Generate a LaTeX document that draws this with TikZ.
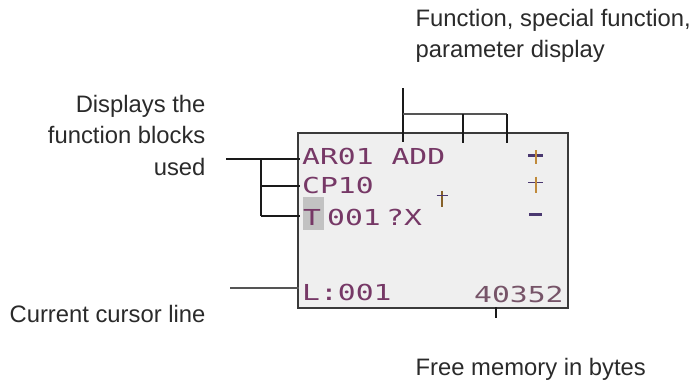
\documentclass[tikz,border=0pt]{standalone}
\usepackage{fontspec}
\setmainfont{Liberation Sans}
\newfontfamily\lcdfont[FakeStretch=1.35]{DejaVu Sans Mono}
\definecolor{labtext}{HTML}{2A2A2A}
\definecolor{lcdink}{HTML}{763866}
\definecolor{lcdink2}{HTML}{765468}
\definecolor{lcdbg}{HTML}{EFEFEF}
\definecolor{lcdframe}{HTML}{3A3A3A}
\definecolor{hilite}{HTML}{C2C2C2}
\definecolor{symbar}{HTML}{4A3870}
\definecolor{symvert}{HTML}{C08A3A}
\definecolor{lead}{HTML}{1A1A1A}
\definecolor{leadgray}{HTML}{555555}
\tikzset{
  lab/.style={inner sep=0pt, text=labtext, font=\fontsize{23.8}{26}\selectfont},
  lcdtxt/.style={inner sep=0pt, anchor=base west, text=lcdink, font=\lcdfont\fontsize{22}{24}\selectfont},
  leader/.style={draw=lead, line width=1.4pt},
  leaderg/.style={draw=leadgray, line width=1.2pt},
}
\begin{document}
\begin{tikzpicture}[x=1pt,y=-1pt]
\useasboundingbox (0,0) rectangle (691,383);

% labels
\node[lab, anchor=base west] (f1) at (415.5,26) {Function, special function,};
\node[lab, anchor=base west] (f2) at (415.5,57) {parameter display};
\node[lab, anchor=base east] (d1) at (205.6,112) {Displays the};
\node[lab, anchor=base east] (d2) at (205.6,143.5) {function blocks};
\node[lab, anchor=base east] (d3) at (205.6,175) {used};
\node[lab, anchor=base east] (cc) at (205.6,322) {Current cursor line};
\node[lab, anchor=base west] (fm) at (415.5,375) {Free memory in bytes};

% LCD display
\node[draw=lcdframe, fill=lcdbg, line width=1.4pt, minimum width=270pt, minimum height=175pt, inner sep=0pt] (lcd) at (433,220.5) {};
\fill[hilite] (303,197) rectangle (324,230);
\node[lcdtxt] (r1) at (302,164) {AR01 ADD};
\node[lcdtxt] (r2) at (302,193) {CP10};
\node[lcdtxt] (r3a) at (303,225) {T};
\node[lcdtxt] (r3b) at (327,225) {001};
\node[lcdtxt] (r3c) at (386,225) {?X};
\node[lcdtxt] (r4) at (302,300) {L:001};
\node[lcdtxt, text=lcdink2] (r5) at (474,302) {40352};

% status symbols
\draw[symbar, line width=3pt] (528,155.7) -- (543,155.7);
\draw[symvert, line width=2pt] (535.5,150) -- (535.5,164);
\draw[symbar, line width=1.5pt] (528,182.7) -- (543,182.7);
\draw[symvert, line width=2pt] (535.5,176.7) -- (535.5,192.7);
\draw[symbar, line width=3pt] (529,214) -- (542,214);
\draw[symvert!70!black, line width=2pt] (441.7,190.7) -- (441.7,206.7);
\draw[symbar, line width=1.5pt] (436.7,195.7) -- (447.7,195.7);

% connector coordinates
\coordinate (tA) at (403,88);
\coordinate (tB) at (403,142);
\coordinate (tJ) at (403,114);
\coordinate (tM) at (463,114);
\coordinate (tMe) at (463,143);
\coordinate (tR) at (507,114);
\coordinate (tRe) at (507,143);
\coordinate (lA) at (226,159);
\coordinate (lJ) at (261,159);
\coordinate (lE1) at (300,159);
\coordinate (lJ2) at (261,186);
\coordinate (lE2) at (300,186);
\coordinate (lJ3) at (261,216);
\coordinate (lE3) at (300,216);
\coordinate (cA) at (230,288);
\coordinate (cB) at (299,288);
\coordinate (mA) at (496,307);
\coordinate (mB) at (496,318);

% connectors
\draw[leader] (tA) -- (tB);
\draw[leaderg] (tJ) -- (tR);
\draw[leader] (tM) -- (tMe);
\draw[leader] (tR) -- (tRe);
\draw[leader] (lA) -- (lE1);
\draw[leader] (lJ) -- (lJ3);
\draw[leader] (lJ2) -- (lE2);
\draw[leader] (lJ3) -- (lE3);
\draw[leaderg] (cA) -- (cB);
\draw[leader] (mA) -- (mB);
\end{tikzpicture}
\end{document}
